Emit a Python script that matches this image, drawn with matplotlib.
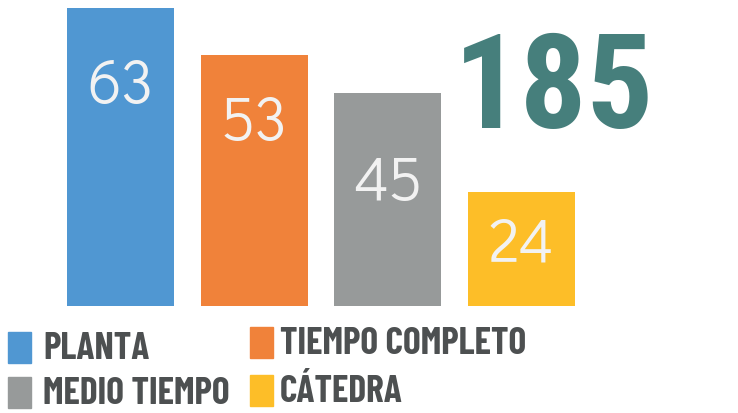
import matplotlib.pyplot as plt
from matplotlib.patches import Rectangle

categories = ["PLANTA", "TIEMPO COMPLETO", "MEDIO TIEMPO", "CÁTEDRA"]
values = [63, 53, 45, 24]
total_label = "185"
colors = ["#5097D2", "#F0823A", "#979A9A", "#FDBE28"]

W, H = 738, 414
fig = plt.figure(figsize=(W / 100, H / 100), dpi=100)
ax = fig.add_axes([0, (H - 307) / H, 1, 307 / H])
xs = list(range(len(values)))
ax.bar(xs, values, width=0.8, color=colors)
ax.set_xlim(-120.5 / 133.67, (W - 120.5) / 133.67)
ax.set_ylim(0, 307 / 4.73)
ax.axis("off")

# value labels inside bars
label_frac = [0.74, 0.73, 0.58, 0.55]
for x, v, f in zip(xs, values, label_frac):
    ax.text(x, v * f, str(v), ha="center", va="center", color="#F2F2F2",
            fontsize=44, family=["Didact Gothic", "DejaVu Sans"])

# total
fig.text(554 / W, 1 - 92 / H, total_label, ha="center", va="center",
         color="#467F7C", fontsize=95, fontweight="bold",
         family=["Roboto Condensed", "DejaVu Sans"])

# manual legend
legend_pos = [(8, 349, 35), (250, 344, 30), (8, 394, 35), (250, 392, 30)]
for (lx, ly, off), name, c in zip(legend_pos, categories, colors):
    fig.patches.append(Rectangle((lx / W, 1 - (ly + 15) / H), 23 / W, 31 / H,
                                 transform=fig.transFigure, color=c))
    fig.text((lx + off) / W, 1 - ly / H, name, ha="left", va="center",
             color="#4D5051", fontsize=27, fontweight="bold",
             family=["Barlow Condensed", "DejaVu Sans"])

fig.savefig("out.png", dpi=100)
